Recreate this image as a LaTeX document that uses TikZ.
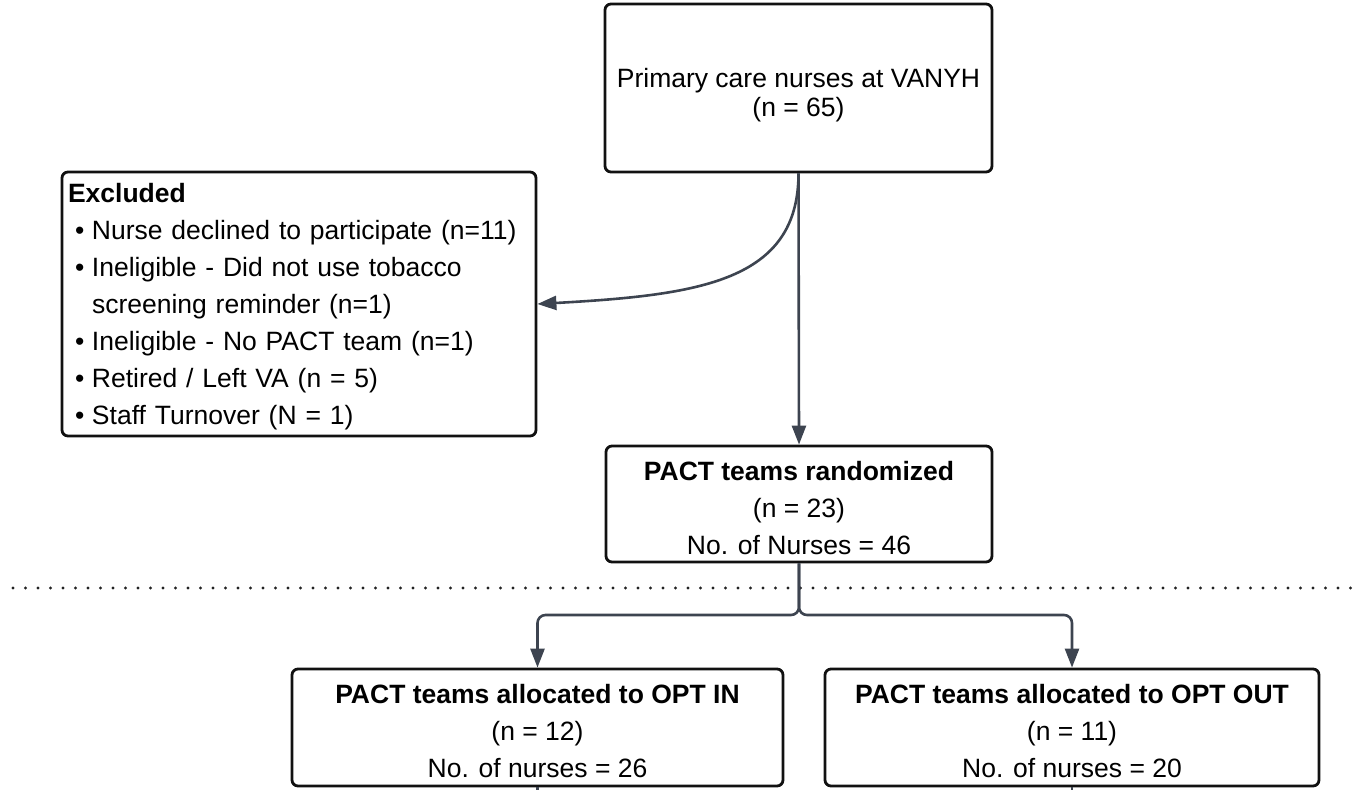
\documentclass[tikz,border=0pt]{standalone}
\usepackage{fontspec}
\setmainfont{Liberation Sans}
\usetikzlibrary{arrows.meta}
\definecolor{connc}{HTML}{3D4450}
\definecolor{boxline}{HTML}{111111}
\definecolor{dotc}{HTML}{222222}
\newcommand\tstrut{\rule{0pt}{27pt}}
\newcommand\tstrutb{\rule{0pt}{33pt}}
\newcommand\estrut{\rule{0pt}{25pt}}
\newcommand\bul{\hspace*{7pt}\makebox[17pt][l]{•}}
\newcommand\hangin{\hspace*{24pt}}
\begin{document}
\begin{tikzpicture}[x=1pt,y=-1pt,
  box/.style={draw=boxline, line width=2.8pt, rounded corners=6pt, align=center, inner sep=0pt,
    font=\fontsize{26.5pt}{37pt}\selectfont},
  conn/.style={draw=connc, line width=2.6pt, -{Triangle[length=19pt,width=14pt]}},
  connline/.style={draw=connc, line width=2.6pt},
  sepline/.style={draw=dotc, line width=3.2pt, line cap=round, dash pattern=on 0pt off 12.5pt},
]
\useasboundingbox (0,0) rectangle (1359,790);

% separator
\coordinate (dl) at (13,588);
\coordinate (dr) at (1359,588);
\draw[sepline] (dl) -- (dr);

% boxes
\node[box, minimum width=387pt, minimum height=168pt, font=\fontsize{26.5pt}{29pt}\selectfont]
  (top) at (798.5,88) {\tstrutb Primary care nurses at VANYH\\(n = 65)};

\node[box, minimum width=474pt, minimum height=264pt, text width=462pt, align=left]
  (exc) at (299,304) {\estrut\textbf{Excluded}\\
  \bul Nurse declined to participate (n=11)\\
  \bul Ineligible - Did not use tobacco\\
  \hangin screening reminder (n=1)\\
  \bul Ineligible - No PACT team (n=1)\\
  \bul Retired / Left VA (n = 5)\\
  \bul Staff Turnover (N = 1)};

\node[box, minimum width=386pt, minimum height=116pt]
  (rand) at (799,504) {\tstrut\textbf{PACT teams randomized}\\(n = 23)\\No. of Nurses = 46};

\node[box, minimum width=491pt, minimum height=117pt]
  (optin) at (537.5,727.5) {\tstrut\textbf{PACT teams allocated to OPT IN}\\(n = 12)\\No. of nurses = 26};

\node[box, minimum width=494pt, minimum height=117pt]
  (optout) at (1072,727.5) {\tstrut\textbf{PACT teams allocated to OPT OUT}\\(n = 11)\\No. of nurses = 20};

% connectors
\draw[conn] (top.south) .. controls +(0,108) and +(162,-9) .. (exc.east);
\draw[conn] (top.south) -- (rand.north);
\coordinate (split) at (799,615);
\draw[conn, rounded corners=8pt] (rand.south) -- (split) -| (optin.north);
\draw[conn, rounded corners=8pt] (rand.south) -- (split) -| (optout.north);
\coordinate (inend) at (537.5,790);
\coordinate (outend) at (1072,790);
\draw[connline] (optin.south) -- (inend);
\draw[connline] (optout.south) -- (outend);
\end{tikzpicture}
\end{document}
